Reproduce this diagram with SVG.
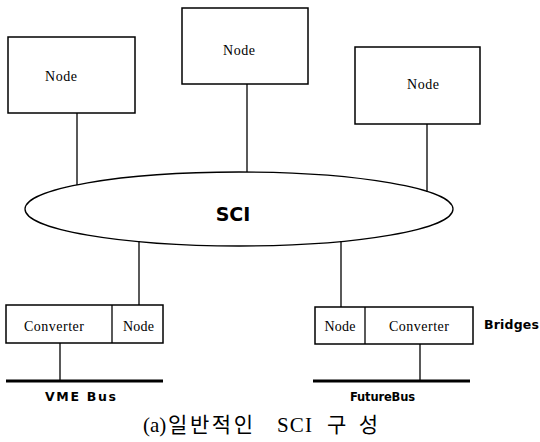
<svg xmlns="http://www.w3.org/2000/svg" width="540" height="442" viewBox="0 0 540 442">
  <style>
    .box { fill: #fff; stroke: #000; stroke-width: 1.5; }
    .wire { stroke: #000; stroke-width: 1.3; fill: none; }
    .bus { stroke: #000; stroke-width: 3.2; }
    .lbl { font-family: "Liberation Serif", serif; font-size: 14px; fill: #000; text-anchor: middle; }
    .bold { font-family: "DejaVu Sans", "Liberation Sans", sans-serif; font-weight: bold; fill: #000; }
    .cap { font-family: "Liberation Serif", "Noto Sans CJK KR", serif; font-size: 21px; fill: #000; }
  </style>
  <rect width="540" height="442" fill="#fff"/>

  <!-- links between nodes and the ring -->
  <g id="connectors">
    <line class="wire" x1="77" y1="113" x2="77" y2="185"/>
    <line class="wire" x1="247" y1="84" x2="247" y2="172"/>
    <line class="wire" x1="427" y1="124" x2="427" y2="192"/>
    <line class="wire" x1="139" y1="241" x2="139" y2="305"/>
    <line class="wire" x1="341" y1="241" x2="341" y2="307"/>
    <line class="wire" x1="60" y1="343" x2="60" y2="381"/>
    <line class="wire" x1="420" y1="344" x2="420" y2="381"/>
  </g>

  <g id="node-left">
    <rect class="box" x="8" y="37" width="127" height="76"/>
    <text class="lbl" x="61" y="81" textLength="32">Node</text>
  </g>
  <g id="node-top">
    <rect class="box" x="182" y="8" width="126" height="76"/>
    <text class="lbl" x="239" y="55" textLength="32">Node</text>
  </g>
  <g id="node-right">
    <rect class="box" x="355" y="47" width="125" height="77"/>
    <text class="lbl" x="423" y="89" textLength="32">Node</text>
  </g>

  <g id="sci-ring">
    <ellipse class="wire" cx="239" cy="209" rx="214" ry="37" stroke-width="1.5"/>
    <text class="bold" x="233" y="221" font-size="19" text-anchor="middle">SCI</text>
  </g>

  <g id="bridge-vme">
    <rect class="box" x="6" y="305" width="157" height="38"/>
    <line class="wire" x1="112" y1="305" x2="112" y2="343"/>
    <text class="lbl" x="54" y="331" textLength="60">Converter</text>
    <text class="lbl" x="138.5" y="331" textLength="31">Node</text>
  </g>

  <g id="bridge-futurebus">
    <rect class="box" x="315" y="307" width="158" height="37"/>
    <line class="wire" x1="365" y1="307" x2="365" y2="344"/>
    <text class="lbl" x="340" y="331" textLength="31">Node</text>
    <text class="lbl" x="419" y="331" textLength="60">Converter</text>
  </g>

  <g id="bus-vme">
    <line class="bus" x1="6" y1="381" x2="163" y2="381"/>
    <text class="bold" x="45" y="401" font-size="12.5" textLength="71">VME  Bus</text>
  </g>
  <g id="bus-futurebus">
    <line class="bus" x1="313" y1="381" x2="470" y2="381"/>
    <text class="bold" x="350" y="401" font-size="11.5" textLength="65">FutureBus</text>
  </g>

  <text class="bold" x="484" y="329" font-size="12.5" textLength="55">Bridges</text>

  <g id="caption">
    <text class="cap" x="143" y="432" font-size="16">(a)</text>
    <text class="cap" x="168" y="432" textLength="85">일반적인</text>
    <text class="cap" x="277" y="432" textLength="35">SCI</text>
    <text class="cap" x="327" y="432" textLength="51">구성</text>
  </g>
</svg>
